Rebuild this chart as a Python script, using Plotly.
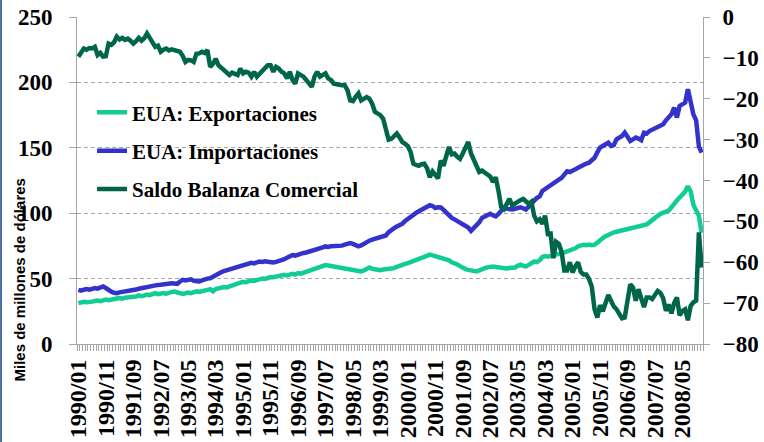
import plotly.graph_objects as go

# ---------------- data (monthly, 1990/01 .. 2008/12) ----------------
years = list(range(1990, 2009))
months = [f"{y}/{m:02d}" for y in years for m in range(1, 13)]

exportaciones = [
    31.2, 31.8, 32.3, 31.9, 32.6, 32.4, 32.9, 33.3, 32.8, 33.6, 33.9, 33.5,
    34.2, 34.0, 34.8, 35.1, 34.7, 35.4, 35.6, 35.2, 36.0, 36.3, 37.2, 36.6,
    37.0, 37.8, 37.3, 38.2, 38.9, 38.1, 38.6, 39.0, 38.4, 39.3, 39.8, 40.1,
    39.5, 38.9, 38.3, 38.8, 39.4, 38.9, 39.6, 40.3, 39.8, 40.6, 41.0, 41.4,
    41.9, 40.2, 42.0, 42.6, 43.1, 43.6, 43.2, 44.0, 44.6, 45.4, 46.2, 47.0,
    47.6, 47.3, 48.1, 48.6, 48.2, 49.0, 49.4, 50.1, 49.7, 50.5, 51.2, 51.0,
    51.4, 51.9, 52.5, 52.9, 52.4, 53.1, 53.6, 53.0, 54.2, 53.8, 54.6, 55.0,
    55.5, 56.2, 57.0, 58.0, 58.6, 59.5, 60.3, 60.0, 59.6, 59.9, 59.3, 59.0,
    58.7, 58.4, 58.0, 57.6, 57.0, 56.5, 56.0, 55.5, 56.2, 57.3, 58.4, 57.5,
    57.0, 56.7, 56.5, 56.9, 57.2, 56.8, 57.5, 58.0, 59.0, 60.0, 60.6, 61.2,
    61.8, 62.8, 63.3, 64.0, 65.0, 65.9, 66.6, 67.6, 68.3, 67.8, 67.2, 66.4,
    65.9, 65.2, 64.4, 63.9, 62.5, 61.9, 60.8, 59.5, 58.0, 57.3, 56.7, 56.5,
    56.0, 55.5, 56.2, 57.5, 58.0, 58.6, 59.0, 59.3, 58.9, 58.5, 58.2, 57.6,
    57.8, 58.1, 58.0, 58.5, 59.8, 60.6, 59.8, 59.3, 60.5, 62.0, 63.1, 62.6,
    64.0, 66.5, 67.2, 66.8, 67.5, 67.9, 68.3, 68.8, 69.5, 70.0, 70.8, 71.3,
    72.0, 73.2, 74.6, 75.2, 75.9, 75.5, 76.0, 75.6, 75.9, 77.5, 79.8, 81.0,
    82.5, 83.6, 84.5, 85.3, 85.8, 86.3, 86.9, 87.5, 88.2, 88.8, 89.2, 89.6,
    89.8, 90.3, 90.8, 91.5, 93.0, 95.0, 96.6, 98.0, 99.5, 100.4, 101.2, 102.0,
    104.5, 107.5, 109.8, 112.0, 114.3, 116.5, 120.6, 116.8, 106.5, 101.5, 98.0, 85.0,
]

importaciones = [
    41.4, 40.8, 41.5, 42.0, 41.6, 42.5, 42.7, 42.3, 43.1, 44.0, 42.8, 40.9,
    40.0, 39.2, 38.9, 39.5, 39.8, 40.1, 40.6, 40.3, 41.0, 41.6, 42.2, 42.7,
    43.0, 43.5, 44.1, 44.5, 45.0, 45.2, 45.3, 45.8, 45.6, 46.1, 46.5, 46.3,
    46.0, 47.8, 49.0, 48.5, 49.0, 49.4, 48.3, 48.0, 47.8, 48.6, 49.5, 50.0,
    50.3, 51.2, 52.5, 53.8, 54.8, 55.8, 56.5, 56.9, 57.6, 58.2, 58.8, 59.6,
    60.4, 60.8, 61.3, 62.0, 61.6, 62.2, 63.1, 62.8, 63.3, 62.9, 62.5, 62.3,
    62.8, 63.3, 63.9, 64.8, 66.0, 67.0, 68.0, 67.6, 68.5, 69.2, 69.6, 70.0,
    70.5, 71.0, 71.6, 72.4, 73.1, 73.8, 74.6, 74.2, 74.8, 75.0, 74.7, 74.6,
    75.2, 75.9, 76.4, 77.2, 76.5, 75.8, 74.6, 75.3, 76.8, 78.5, 79.0, 79.8,
    80.5, 81.4, 82.0, 82.3, 83.0, 85.5, 87.4, 88.6, 89.8, 90.8, 92.0, 94.0,
    95.8, 97.6, 98.8, 100.2, 101.5, 102.8, 103.6, 104.8, 106.1, 105.5, 104.0, 104.6,
    104.4, 102.5, 100.2, 98.5, 96.4, 95.3, 94.0, 92.6, 91.8, 91.0, 89.0, 86.5,
    88.5, 90.0, 93.0, 96.4, 97.5, 98.9, 99.5, 98.5, 97.6, 99.5, 101.8, 104.0,
    103.5, 103.2, 102.8, 103.4, 104.0, 104.5, 103.8, 102.8, 105.0, 107.9, 109.5, 111.7,
    112.8, 117.0, 118.5, 120.6, 122.0, 123.0, 124.5, 125.6, 127.0, 129.5, 132.1, 131.5,
    132.1, 133.5, 134.7, 136.0, 137.3, 138.0, 138.6, 140.0, 142.4, 146.5, 150.1, 151.4,
    153.0, 153.9, 151.4, 152.0, 156.5, 158.0, 159.0, 161.6, 158.0, 155.2, 156.5, 157.8,
    157.0, 155.8, 161.6, 161.0, 162.8, 164.0, 165.2, 166.2, 167.0, 168.0, 171.0, 173.1,
    175.6, 180.7, 173.1, 182.0, 183.5, 184.6, 194.8, 185.8, 175.6, 171.0, 151.0, 146.3,
]

saldo = [
    -9.7, -8.4, -7.7, -8.0, -7.6, -7.7, -7.3, -9.3, -8.8, -9.7, -9.6, -6.5,
    -6.8, -6.2, -4.8, -5.5, -5.1, -5.6, -5.3, -5.8, -6.5, -5.9, -5.1, -5.8,
    -5.2, -4.0, -5.3, -6.2, -7.3, -7.0, -8.5, -8.0, -7.7, -8.2, -7.9, -8.1,
    -8.3, -8.5, -9.5, -11.0, -10.5, -10.6, -11.0, -9.0, -8.9, -8.5, -8.8, -8.1,
    -12.2, -11.5, -10.2, -11.8, -12.4, -13.0, -13.6, -14.2, -13.6, -13.8, -14.2, -12.6,
    -13.8, -13.4, -13.6, -14.6, -13.4, -14.6, -13.8, -13.0, -12.4, -11.8, -11.8, -13.4,
    -12.2, -12.6, -13.4, -13.8, -15.0, -13.4, -15.4, -16.3, -13.8, -14.2, -14.6, -15.4,
    -16.5, -17.1, -14.6, -13.4, -14.6, -14.2, -13.8, -15.0, -15.4, -16.3, -16.5, -16.7,
    -16.7, -16.7, -17.9, -20.4, -20.6, -19.5, -18.7, -20.4, -20.0, -19.6, -20.0, -21.2,
    -23.2, -23.5, -24.0, -24.9, -28.1, -30.0, -29.8, -29.0, -28.5, -29.5, -30.6, -31.0,
    -31.6, -33.0, -35.9, -36.2, -36.4, -36.0, -35.9, -37.0, -39.2, -37.8, -38.5, -39.5,
    -35.1, -36.4, -34.0, -31.8, -33.6, -33.4, -34.2, -34.7, -33.4, -32.0, -30.6, -33.4,
    -34.8, -35.9, -37.9, -37.6, -38.0, -38.3, -39.0, -40.4, -39.2, -42.5, -46.5, -47.0,
    -45.8, -44.5, -46.1, -45.6, -45.2, -44.8, -44.5, -45.1, -45.7, -45.2, -48.6, -50.0,
    -49.5, -50.6, -48.6, -53.1, -53.0, -59.0, -55.0, -55.5, -57.5, -62.0, -62.0, -60.0,
    -62.5, -61.0, -60.0, -62.4, -63.0, -63.0, -64.1, -66.0, -71.5, -73.5, -70.5, -72.0,
    -70.0, -68.0, -69.4, -70.8, -71.5, -72.5, -73.7, -73.5, -69.0, -65.4, -66.2, -69.4,
    -66.6, -69.0, -71.0, -68.6, -68.6, -69.0, -68.0, -67.0, -67.5, -68.8, -71.9, -70.3,
    -72.5, -70.0, -68.6, -73.0, -71.9, -71.5, -74.2, -70.7, -69.8, -69.4, -52.7, -61.3,
]

series_names = ["EUA: Exportaciones", "EUA: Importaciones", "Saldo Balanza Comercial"]
series_colors = ["#12CC96", "#3333CC", "#00664A"]

label_step = 10
tick_positions = list(range(0, len(months), label_step))
tick_labels = [months[i] for i in tick_positions]
xidx = list(range(len(months)))

# ---------------- figure ----------------
SERIF = "Liberation Serif"
fig = go.Figure()
fig.add_trace(go.Scatter(x=xidx, y=exportaciones, name=series_names[0], mode="lines",
                         line=dict(color=series_colors[0], width=4.5), legendgroup="a"))
fig.add_trace(go.Scatter(x=xidx, y=importaciones, name=series_names[1], mode="lines",
                         line=dict(color=series_colors[1], width=4.5), legendgroup="b"))
fig.add_trace(go.Scatter(x=xidx, y=saldo, name=series_names[2], mode="lines", yaxis="y2",
                         line=dict(color=series_colors[2], width=4.5), legendgroup="c"))

tickfont = dict(family=SERIF, size=23, color="black", weight="bold")
xtickfont = dict(family=SERIF, size=24, color="black", weight="bold")
grey = "#A6A6A6"

fig.update_layout(
    width=764, height=442,
    margin=dict(l=77, r=61, t=17, b=98, autoexpand=False),
    paper_bgcolor="white", plot_bgcolor="white",
    showlegend=True,
    legend=dict(x=0.024, y=0.77, xanchor="left", yanchor="top",
                bgcolor="rgba(0,0,0,0)", font=dict(family=SERIF, size=21, color="black", weight="bold"),
                tracegroupgap=8, itemwidth=30),
    xaxis=dict(range=[-0.5, len(months) - 0.5], tickmode="array", tickvals=tick_positions,
               ticktext=tick_labels, tickangle=-90, tickfont=xtickfont, ticks="", showgrid=False,
               showline=True, linecolor=grey, linewidth=1, zeroline=False, ticklabelstandoff=5,
               minor=dict(ticks="outside", ticklen=6, tickcolor=grey, tick0=-0.5, dtick=1, showgrid=False)),
    yaxis=dict(range=[0, 250], dtick=50, tickfont=tickfont, showgrid=True, gridcolor=grey,
               griddash="4px,3px", gridwidth=1, showline=True, linecolor=grey, linewidth=1,
               ticks="outside", ticklen=7, tickcolor=grey, zeroline=False, ticklabelstandoff=12),
    yaxis2=dict(range=[-80, 0], dtick=10, overlaying="y", side="right", tickfont=tickfont,
                showgrid=False, showline=True, linecolor=grey, linewidth=1, ticks="outside",
                ticklen=6, tickcolor=grey, zeroline=False, ticklabelstandoff=8),
    annotations=[dict(text="Miles de millones de dólares", xref="paper", yref="paper",
                      x=(18.5 - 77) / 626, y=(344 - 280) / 327, xanchor="center", yanchor="middle",
                      textangle=-90, showarrow=False,
                      font=dict(family="Liberation Sans", size=15, color="black", weight="bold"))],
    shapes=[dict(type="line", xref="paper", yref="paper", x0=-76 / 626, x1=-76 / 626,
                 y0=-98 / 327, y1=1 + 17 / 327, line=dict(color="#4F6FA8", width=2))],
)

fig.write_html("out.html", config={"displayModeBar": False},
               post_script="document.body.style.margin='0';document.body.style.overflow='hidden';")
